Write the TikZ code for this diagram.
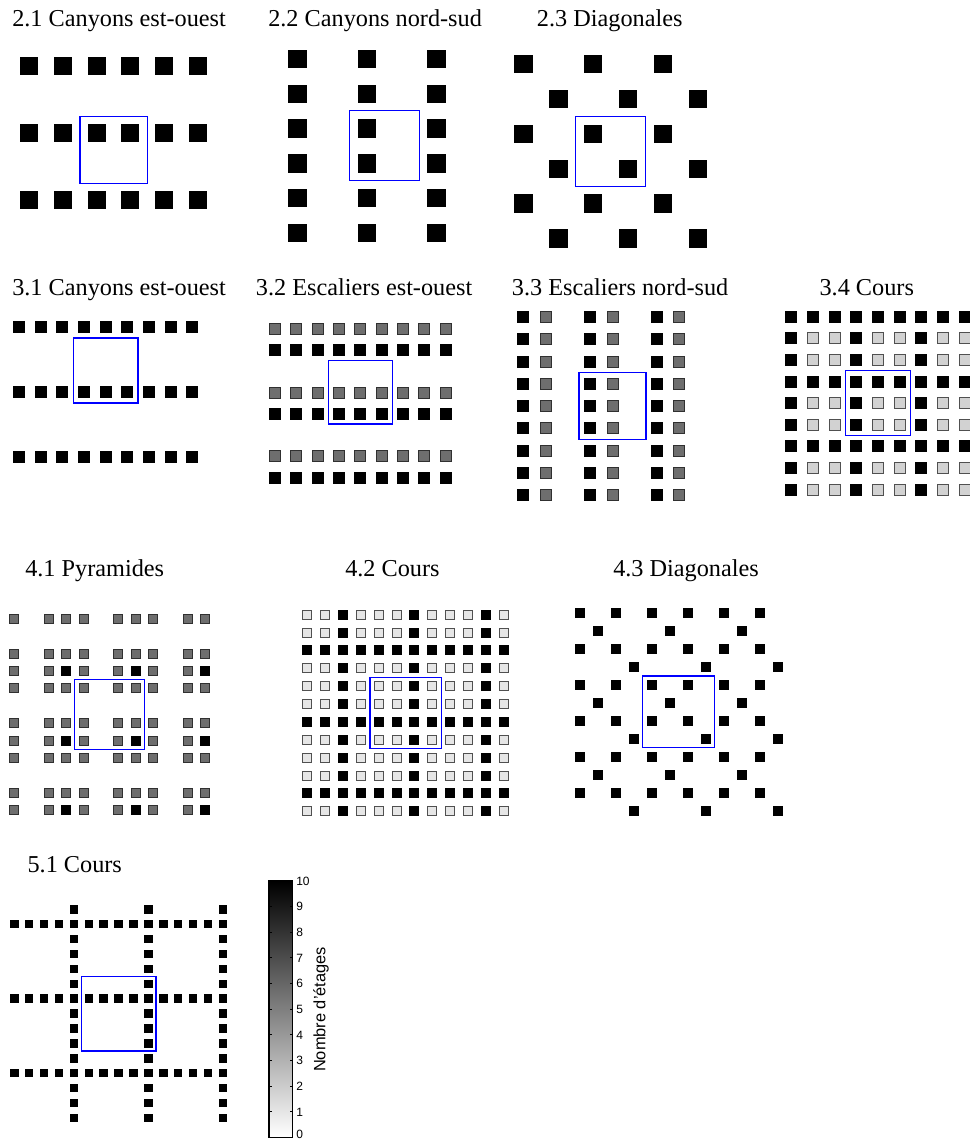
\documentclass[tikz,border=0pt]{standalone}
\usepackage{fontspec}
\setmainfont{Liberation Serif}
\setsansfont{Liberation Sans}
\usetikzlibrary{positioning}
\definecolor{gy}{HTML}{6E6E6E}
\definecolor{gyline}{HTML}{303030}
\definecolor{lg}{HTML}{D2D2D2}
\definecolor{lgline}{HTML}{505050}
\definecolor{vl}{HTML}{E6E6E6}

\begin{document}
\begin{tikzpicture}[
		x=0.75pt, y=-0.75pt,
		t/.style = {anchor=base west, inner sep=0pt, font=\fontsize{18.2pt}{20pt}\selectfont},
		k/.style = {rectangle, fill=black, inner sep=0pt, outer sep=0pt, minimum size=#1*0.75pt},
		g/.style = {rectangle, fill=gy, draw=gyline, line width=0.75pt, inner sep=0pt, outer sep=0pt, minimum size=#1*0.75pt},
		l/.style = {rectangle, fill=lg, draw=lgline, line width=0.75pt, inner sep=0pt, outer sep=0pt, minimum size=#1*0.75pt},
		v/.style = {rectangle, fill=vl, draw=lgline, line width=0.75pt, inner sep=0pt, outer sep=0pt, minimum size=#1*0.75pt},
		b/.style = {draw=blue, line width=0.8pt},
		n/.style = {inner sep=0pt, font=\sffamily\fontsize{9pt}{10pt}\selectfont, anchor=west}
		]
	\useasboundingbox (0,0) rectangle (970,1140);

	%Titles
	\node[t]	(t21)	at	(12, 26)		{2.1 Canyons est-ouest};
	\node[t]	(t22)	at	(268, 26)		{2.2 Canyons nord-sud};
	\node[t]	(t23)	at	(536.7, 26)		{2.3 Diagonales};
	\node[t]	(t31)	at	(12, 295)		{3.1 Canyons est-ouest};
	\node[t]	(t32)	at	(255.7, 295)	{3.2 Escaliers est-ouest};
	\node[t]	(t33)	at	(511.7, 295)	{3.3 Escaliers nord-sud};
	\node[t]	(t34)	at	(819.3, 295)	{3.4 Cours};
	\node[t]	(t41)	at	(25, 576.7)		{4.1 Pyramides};
	\node[t]	(t42)	at	(345, 576.7)	{4.2 Cours};
	\node[t]	(t43)	at	(613, 576.7)	{4.3 Diagonales};
	\node[t]	(t51)	at	(27.3, 872.7)	{5.1 Cours};

	%2.1
	\foreach \i in {0,...,5}
		\foreach \j in {0,1,2}
			\node[k=18]	(a-\i-\j)	at	(29+33.8*\i, 65.7+67.3*\j)	{};
	\draw[b]	(80, 116.3)	rectangle	(147.3, 183.3);

	%2.2
	\foreach \i in {0,1,2}
		\foreach \j in {0,...,5}
			\node[k=18.5]	(b-\i-\j)	at	(297.3+69.7*\i, 59+34.75*\j)	{};
	\draw[b]	(349.7, 110.7)	rectangle	(419.3, 180.3);

	%2.3
	\foreach \i in {0,1,2}
		\foreach \j in {0,1,2} {
			\node[k=18.5]	(c-\i-\j)	at	(523.3+69.8*\i, 64+69.8*\j)		{};
			\node[k=18.5]	(d-\i-\j)	at	(558.3+69.8*\i, 99+69.8*\j)		{};
		}
	\draw[b]	(575.7, 116.7)	rectangle	(645.7, 186.3);

	%3.1
	\foreach \i in {0,...,8}
		\foreach \j in {0,1,2}
			\node[k=12]	(e-\i-\j)	at	(19+21.67*\i, 327+65*\j)	{};
	\draw[b]	(73.3, 338)	rectangle	(138, 403);

	%3.2
	\foreach \i in {0,...,8}
		\foreach \j in {0,1,2} {
			\node[g=11]	(f-\i-\j)	at	(275+21.33*\i, 328.7+63.8*\j)	{};
			\node[k=12]	(h-\i-\j)	at	(275+21.33*\i, 349.7+64*\j)		{};
		}
	\draw[b]	(328.7, 360.3)	rectangle	(392.3, 424);

	%3.3
	\foreach \i in {0,1,2}
		\foreach \j in {0,...,8} {
			\node[k=12]	(m-\i-\j)	at	(523+67*\i, 317+22.25*\j)		{};
			\node[g=11]	(o-\i-\j)	at	(545.7+66.8*\i, 317+22.25*\j)	{};
		}
	\draw[b]	(579, 372.7)	rectangle	(646, 439.3);

	%3.4
	\foreach \i in {0,...,8}
		\foreach \j in {0,...,8} {
			\pgfmathtruncatemacro{\f}{or(mod(\i,3)==0, mod(\j,3)==0)}
			\ifnum\f=1 \def\s{k}\def\m{12}\else\def\s{l}\def\m{11}\fi
			\node[\s=\m]	(q-\i-\j)	at	(791.3+21.67*\i, 316.7+21.63*\j)	{};
		}
	\draw[b]	(845.7, 370.3)	rectangle	(910.3, 435.3);

	%4.1
	\foreach \i in {0,2,3,4,6,7,8,10,11}
		\foreach \j in {0,2,3,4,6,7,8,10,11} {
			\pgfmathtruncatemacro{\f}{and(mod(\i,4)==3, mod(\j,4)==3)}
			\ifnum\f=1 \def\s{k}\def\m{10}\else\def\s{g}\def\m{9}\fi
			\node[\s=\m]	(r-\i-\j)	at	(14+17.4*\i, 618.7+17.4*\j)	{};
		}
	\draw[b]	(74.7, 679.7)	rectangle	(144.3, 749.3);

	%4.2
	\foreach \i in {0,...,11}
		\foreach \j in {0,...,11} {
			\pgfmathtruncatemacro{\f}{or(mod(\i,4)==2, mod(\j,4)==2)}
			\ifnum\f=1 \def\s{k}\def\m{10}\else\def\s{v}\def\m{9}\fi
			\node[\s=\m]	(u-\i-\j)	at	(307.3+17.85*\i, 614.7+17.87*\j)	{};
		}
	\draw[b]	(370, 677.7)	rectangle	(441.3, 748.7);

	%4.3
	\foreach \i in {0,...,5}
		\foreach \j in {0,...,5}
			\node[k=10]	(w-\i-\j)	at	(579.7+36*\i, 612.7+36*\j)	{};
	\foreach \i in {0,1,2}
		\foreach \j in {0,1,2} {
			\node[k=10]	(x-\i-\j)	at	(597.7+72*\i, 630.7+72*\j)	{};
			\node[k=10]	(y-\i-\j)	at	(633.7+72*\i, 666.7+72*\j)	{};
		}
	\draw[b]	(642.7, 676)	rectangle	(714.7, 747.7);

	%5.1
	\foreach \i in {0,...,14}
		\foreach \j in {0,1,2}
			\node[k=8.5]	(z-\i-\j)	at	(14.3+14.9*\i, 924+74.5*\j)	{};
	\foreach \i in {0,1,2}
		\foreach \j in {0,...,14}
			\node[k=8.5]	(zz-\i-\j)	at	(74+74.5*\i, 909.3+14.9*\j)	{};
	\draw[b]	(81.7, 976.7)	rectangle	(156, 1051);

	%Scale
	\shade[bottom color=white, top color=black]	(269, 880.7)	rectangle	(292.7, 1137.3);
	\draw[line width=0.9pt]	(269, 880.7)	rectangle	(292.7, 1137.3);
	\foreach \i in {0,...,10} {
		\draw[line width=0.4pt]	(269, 1137.3-25.66*\i) -- ++(2.5, 0);
		\draw[line width=0.4pt]	(292.7, 1137.3-25.66*\i) -- ++(-2.5, 0);
	}
	\foreach \i in {1,...,10}
		\node[n]	(s\i)	at	(296, 1137.6-25.65*\i)	{\i};
	\node[n]	(s0)	at	(296, 1134.5)	{0};
	\node[font=\sffamily\fontsize{12.3pt}{14pt}\selectfont, rotate=90, inner sep=0pt]	(lab)	at	(321, 1009.5)	{Nombre d'étages};
\end{tikzpicture}
\end{document}
